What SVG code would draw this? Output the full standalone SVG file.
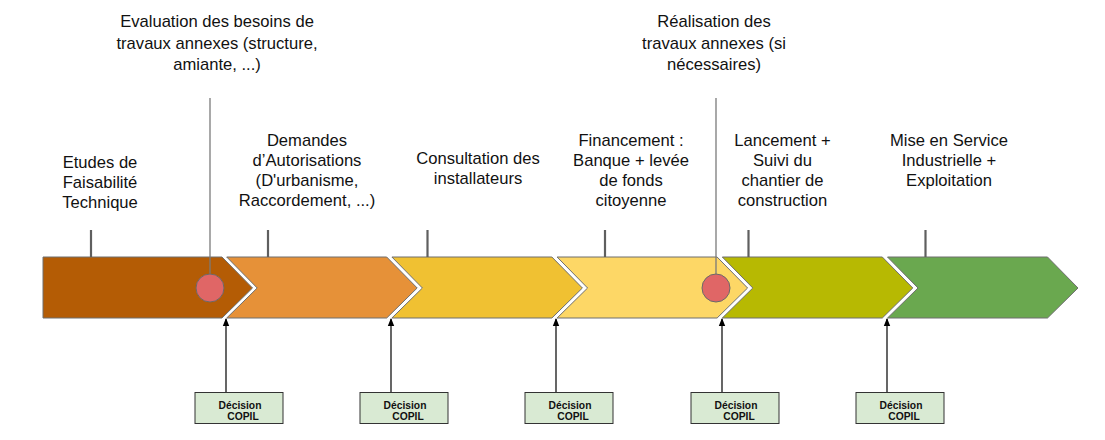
<svg xmlns="http://www.w3.org/2000/svg" width="1105" height="440" viewBox="0 0 1105 440">
<style>
.lbl{font-family:"Liberation Sans",Arial,sans-serif;font-size:16.6px;fill:#111;text-anchor:middle}
.stage{stroke:#6f6f6f;stroke-width:1}
.tick{stroke:#5f5f5f;stroke-width:2.2}
.ms{stroke:#7a7a7a;stroke-width:1.3}
.dot{fill:#E06666;stroke:#6a6a6a;stroke-width:1}
.box{fill:#D9EAD3;stroke:#333;stroke-width:1}
.dec{font-family:"Liberation Sans",Arial,sans-serif;font-size:10.3px;font-weight:bold;fill:#111;text-anchor:middle}
.arr{stroke:#000;stroke-width:1.2;marker-end:url(#ah)}
</style>
<defs>
<marker id="ah" markerWidth="8" markerHeight="8" refX="7" refY="4" orient="auto" markerUnits="userSpaceOnUse">
<path d="M0,0.8 L8,4 L0,7.2 Z" fill="#000"/>
</marker>
</defs>
<rect width="1105" height="440" fill="#fff"/>

<g id="stages">
<g id="stage1"><polygon class="stage" fill="#B45C05" points="43,257 222,257 252.5,288 222,318 43,318"/></g>
<g id="stage2"><polygon class="stage" fill="#E69138" points="226.7,257 386.7,257 417.2,288 386.7,318 226.7,318 257.2,288"/></g>
<g id="stage3"><polygon class="stage" fill="#F0C132" points="391.9,257 551.9,257 582.4,288 551.9,318 391.9,318 422.4,288"/></g>
<g id="stage4"><polygon class="stage" fill="#FDD766" points="557.1,257 717.1,257 747.6,288 717.1,318 557.1,318 587.6,288"/></g>
<g id="stage5"><polygon class="stage" fill="#B7B902" points="722.3,257 882.3,257 912.8,288 882.3,318 722.3,318 752.8,288"/></g>
<g id="stage6"><polygon class="stage" fill="#6AA84F" points="887.5,257 1047.5,257 1078,288 1047.5,318 887.5,318 918,288"/></g>
</g>

<g id="ticks">
<line class="tick" x1="91" y1="230" x2="91" y2="257"/>
<line class="tick" x1="268" y1="230" x2="268" y2="257"/>
<line class="tick" x1="427.5" y1="230" x2="427.5" y2="257"/>
<line class="tick" x1="605" y1="230" x2="605" y2="257"/>
<line class="tick" x1="748.5" y1="230" x2="748.5" y2="257"/>
<line class="tick" x1="925.5" y1="230" x2="925.5" y2="257"/>
</g>

<g id="milestone1">
<line class="ms" x1="210" y1="98" x2="210" y2="274"/>
<circle class="dot" cx="210" cy="288" r="14"/>
<text class="lbl" x="217" y="27">Evaluation des besoins de</text>
<text class="lbl" x="217" y="48.5">travaux annexes (structure,</text>
<text class="lbl" x="217" y="70">amiante, ...)</text>
</g>
<g id="milestone2">
<line class="ms" x1="716" y1="98" x2="716" y2="274"/>
<circle class="dot" cx="716" cy="288" r="14"/>
<text class="lbl" x="714" y="27">Réalisation des</text>
<text class="lbl" x="714" y="48.5">travaux annexes (si</text>
<text class="lbl" x="714" y="70">nécessaires)</text>
</g>

<g id="labels">
<text class="lbl" x="100" y="168">Etudes de</text>
<text class="lbl" x="100" y="188">Faisabilité</text>
<text class="lbl" x="100" y="208">Technique</text>

<text class="lbl" x="307" y="146">Demandes</text>
<text class="lbl" x="307" y="166">d’Autorisations</text>
<text class="lbl" x="307" y="186">(D'urbanisme,</text>
<text class="lbl" x="307" y="206">Raccordement, ...)</text>

<text class="lbl" x="478" y="164">Consultation des</text>
<text class="lbl" x="478" y="184">installateurs</text>

<text class="lbl" x="631" y="146">Financement :</text>
<text class="lbl" x="631" y="166">Banque + levée</text>
<text class="lbl" x="631" y="186">de fonds</text>
<text class="lbl" x="631" y="206">citoyenne</text>

<text class="lbl" x="782.5" y="146">Lancement +</text>
<text class="lbl" x="782.5" y="166">Suivi du</text>
<text class="lbl" x="782.5" y="186">chantier de</text>
<text class="lbl" x="782.5" y="206">construction</text>

<text class="lbl" x="949" y="146">Mise en Service</text>
<text class="lbl" x="949" y="166">Industrielle +</text>
<text class="lbl" x="949" y="186">Exploitation</text>
</g>

<g id="connectors">
<line class="arr" x1="226" y1="393" x2="226" y2="319"/>
<line class="arr" x1="391" y1="393" x2="391" y2="319"/>
<line class="arr" x1="556" y1="393" x2="556" y2="319"/>
<line class="arr" x1="722" y1="393" x2="722" y2="319"/>
<line class="arr" x1="887" y1="393" x2="887" y2="319"/>
</g>

<g id="decision1"><rect class="box" x="195" y="392.5" width="88" height="31"/><text class="dec" x="240" y="408.5">Décision</text><text class="dec" x="243" y="420">COPIL</text></g>
<g id="decision2"><rect class="box" x="360" y="392.5" width="88" height="31"/><text class="dec" x="405" y="408.5">Décision</text><text class="dec" x="408" y="420">COPIL</text></g>
<g id="decision3"><rect class="box" x="525" y="392.5" width="88" height="31"/><text class="dec" x="570" y="408.5">Décision</text><text class="dec" x="573" y="420">COPIL</text></g>
<g id="decision4"><rect class="box" x="691" y="392.5" width="88" height="31"/><text class="dec" x="736" y="408.5">Décision</text><text class="dec" x="739" y="420">COPIL</text></g>
<g id="decision5"><rect class="box" x="856" y="392.5" width="88" height="31"/><text class="dec" x="901" y="408.5">Décision</text><text class="dec" x="904" y="420">COPIL</text></g>
</svg>
